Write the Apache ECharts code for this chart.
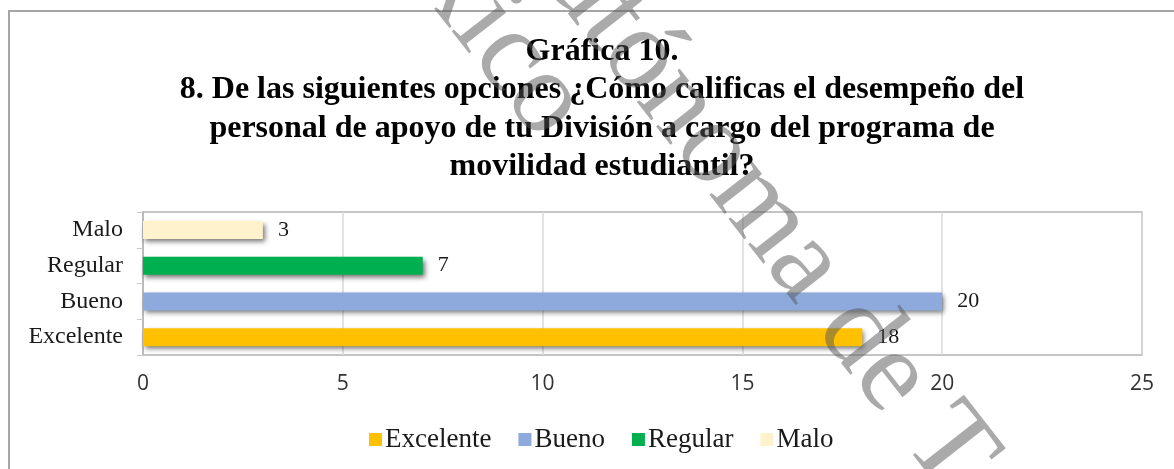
<!DOCTYPE html>
<html>
<head>
<meta charset="utf-8">
<script src="https://cdn.jsdelivr.net/npm/echarts@6/dist/echarts.min.js"></script>
<style>
  html, body { margin: 0; padding: 0; background: #fff; }
  #main { width: 1174px; height: 469px; }
</style>
</head>
<body>
<div id="main"></div>
<script>
// datos de la gráfica
const categories = ['Excelente', 'Bueno', 'Regular', 'Malo']
const values = [18, 20, 7, 3]
const barColors = ['#FFC000', '#8EA9DB', '#00B050', '#FFF2CC']
const xTicks = { min: 0, max: 25, interval: 5 }

const titleLines = [
    'Gráfica 10.',
    '8. De las siguientes opciones ¿Cómo calificas el desempeño del',
    'personal de apoyo de tu División a cargo del programa de',
    'movilidad estudiantil?'
]

const serif = '"Liberation Serif", "Times New Roman", serif'

let chart = echarts.init(document.getElementById('main'))

// one series per category so the legend gets four coloured entries
let series = categories.map(function (name, i) {
    return {
        name: name,
        type: 'bar',
        stack: 'total',
        barWidth: 18,
        data: categories.map(function (c, j) { return j === i ? values[j] : '-' }),
        itemStyle: {
            color: barColors[i],
            shadowColor: 'rgba(0,0,0,0.55)',
            shadowBlur: 5,
            shadowOffsetX: 2,
            shadowOffsetY: 3
        },
        label: {
            show: true,
            position: 'right',
            distance: 15,
            fontFamily: serif,
            fontSize: 22,
            color: '#1a1a1a'
        },
        silent: true
    }
})

let rad = Math.PI / 180
let watermark = 'rgba(85,85,85,0.5)'

let option = {
    animation: false,
    backgroundColor: '#fff',
    title: {
        text: titleLines.join('\n'),
        left: 597,
        top: 27,
        textAlign: 'center',
        textStyle: {
            fontFamily: serif,
            fontWeight: 'bold',
            fontSize: 32,
            lineHeight: 38.5,
            color: '#000'
        }
    },
    legend: {
        data: categories,
        top: 421,
        left: 364,
        itemWidth: 13,
        itemHeight: 13,
        itemGap: 27,
        icon: 'rect',
        selectedMode: false,
        textStyle: {
            fontFamily: serif,
            fontSize: 27,
            color: '#1a1a1a',
            padding: [0, 0, 0, -2]
        }
    },
    grid: {
        left: 143,
        right: 32,
        top: 212,
        bottom: 114,
        show: true,
        borderColor: '#b3b3b3',
        borderWidth: 1.5
    },
    xAxis: {
        type: 'value',
        min: xTicks.min,
        max: xTicks.max,
        interval: xTicks.interval,
        axisLine: { show: false },
        axisTick: { show: false },
        axisLabel: {
            margin: 19,
            fontFamily: '"Open Sans", sans-serif',
            fontSize: 21,
            color: '#333'
        },
        splitLine: { lineStyle: { color: '#d9d9d9', width: 1.5 } }
    },
    yAxis: {
        type: 'category',
        data: categories,
        axisLine: { show: true, lineStyle: { color: '#b3b3b3', width: 1.5 } },
        axisTick: { show: true, length: 6, lineStyle: { color: '#c8c8c8' } },
        axisLabel: {
            margin: 20,
            fontFamily: serif,
            fontSize: 24,
            color: '#1a1a1a'
        }
    },
    series: series,
    graphic: [
        {
            type: 'rect',
            shape: { x: 9, y: 11, width: 1180, height: 480 },
            style: { fill: 'none', stroke: '#a6a6a6', lineWidth: 2 },
            silent: true
        },
        {
            type: 'text',
            x: 468, y: -69,
            rotation: -52 * rad,
            z: 100,
            style: {
                text: 'Autónoma de T',
                font: '118px "Liberation Serif"',
                fill: watermark,
                textAlign: 'left',
                textVerticalAlign: 'bottom'
            },
            silent: true
        },
        {
            type: 'text',
            x: 295, y: -124,
            rotation: -52 * rad,
            z: 100,
            style: {
                text: 'México',
                font: '118px "Liberation Serif"',
                fill: watermark,
                textAlign: 'left',
                textVerticalAlign: 'bottom'
            },
            silent: true
        }
    ]
}

chart.setOption(option)
</script>
</body>
</html>
